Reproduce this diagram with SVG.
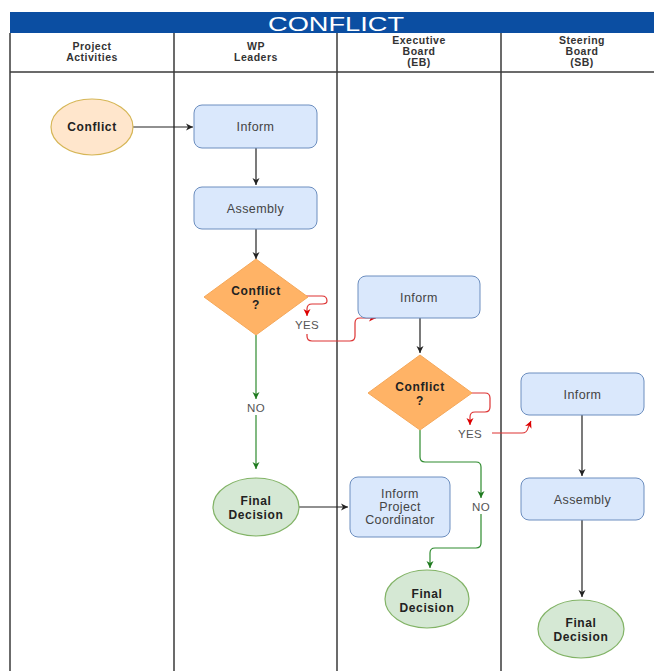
<svg xmlns="http://www.w3.org/2000/svg" width="654" height="671" viewBox="0 0 654 671">
<defs>
<style>
.lane{stroke:#3a3a3a;stroke-width:1.5;fill:none}
.hdr{font-family:"Liberation Sans",Arial,sans-serif;font-size:10.5px;font-weight:bold;fill:#333;text-anchor:middle;letter-spacing:0.5px}
.box{fill:#dae8fc;stroke:#6c8ebf;stroke-width:1}
.orange{fill:#ffe6cc;stroke:#d6b656;stroke-width:1.2}
.green{fill:#d5e8d4;stroke:#82b366;stroke-width:1.2}
.dia{fill:#ffb366;stroke:#f5a85a;stroke-width:1}
.t{font-family:"Liberation Sans",Arial,sans-serif;font-size:12.5px;fill:#444;text-anchor:middle;letter-spacing:0.4px}
.tb{font-family:"Liberation Sans",Arial,sans-serif;font-size:12px;font-weight:bold;fill:#222;text-anchor:middle;letter-spacing:0.6px}
.lbl{font-family:"Liberation Sans",Arial,sans-serif;font-size:11.5px;fill:#555;text-anchor:middle;letter-spacing:0.4px}
.cb{stroke:#222;stroke-width:1.2;fill:none}
.cr{stroke:#d33;stroke-width:1.2;fill:none}
.cg{stroke:#2e8b2e;stroke-width:1.2;fill:none}
</style>
<marker id="ab" markerWidth="8" markerHeight="8" refX="7" refY="4" orient="auto" markerUnits="userSpaceOnUse"><path d="M0,0.5 L7,4 L0,7.5 L2,4 Z" fill="#222"/></marker>
<marker id="ar" markerWidth="8" markerHeight="8" refX="7" refY="4" orient="auto" markerUnits="userSpaceOnUse"><path d="M0,0.5 L7,4 L0,7.5 L2,4 Z" fill="#d00"/></marker>
<marker id="ag" markerWidth="8" markerHeight="8" refX="7" refY="4" orient="auto" markerUnits="userSpaceOnUse"><path d="M0,0.5 L7,4 L0,7.5 L2,4 Z" fill="#1f7a1f"/></marker>
</defs>
<rect width="654" height="671" fill="#fff"/>
<g id="pool">
<rect x="10" y="12" width="644" height="21" fill="#0b4ea2"/>
<text x="336" y="30.5" font-family="'Liberation Sans',Arial,sans-serif" font-size="21" fill="#fff" text-anchor="middle" textLength="136" lengthAdjust="spacingAndGlyphs">CONFLICT</text>
<line class="lane" x1="10" y1="72" x2="654" y2="72"/>
<line class="lane" x1="10" y1="33" x2="10" y2="671"/>
<line class="lane" x1="174" y1="33" x2="174" y2="671"/>
<line class="lane" x1="337" y1="33" x2="337" y2="671"/>
<line class="lane" x1="501" y1="33" x2="501" y2="671"/>
<text class="hdr" x="92" y="50">Project</text>
<text class="hdr" x="92" y="61">Activities</text>
<text class="hdr" x="256" y="50">WP</text>
<text class="hdr" x="256" y="61">Leaders</text>
<text class="hdr" x="419" y="44">Executive</text>
<text class="hdr" x="419" y="55">Board</text>
<text class="hdr" x="419" y="66">(EB)</text>
<text class="hdr" x="582" y="44">Steering</text>
<text class="hdr" x="582" y="55">Board</text>
<text class="hdr" x="582" y="66">(SB)</text>
</g>
<g id="connectors">
<path class="cb" d="M133,127 H193" marker-end="url(#ab)"/>
<path class="cb" d="M256,148 V185" marker-end="url(#ab)"/>
<path class="cb" d="M256,229 V259" marker-end="url(#ab)"/>
<path class="cr" d="M306,296 H322 Q327,296 327,301 Q327,304 322,304 H312 Q307,304 307,309 V316" marker-end="url(#ar)"/>
<path class="cr" d="M307,334 V336 Q307,341 312,341 H350 Q355,341 355,336 V323 Q355,318 360,318 H376" marker-end="url(#ar)"/>
<path class="cg" d="M256,335 V399" marker-end="url(#ag)"/>
<path class="cg" d="M256,415 V469" marker-end="url(#ag)"/>
<path class="cb" d="M420,318 V353" marker-end="url(#ab)"/>
<path class="cr" d="M470,393 H485 Q490,393 490,398 V407 Q490,412 485,412 H475 Q470,412 470,417 V425" marker-end="url(#ar)"/>
<path class="cr" d="M492,433 H522 Q527,433 528,428 L531,421" marker-end="url(#ar)"/>
<path class="cg" d="M420,430 V457 Q420,462 425,462 H476 Q481,462 481,467 V498" marker-end="url(#ag)"/>
<path class="cg" d="M481,514 V543 Q481,548 476,548 H435 Q430,548 430,553 V568" marker-end="url(#ag)"/>
<path class="cb" d="M299,507 H348" marker-end="url(#ab)"/>
<path class="cb" d="M582,415 V476" marker-end="url(#ab)"/>
<path class="cb" d="M582,520 V597" marker-end="url(#ab)"/>
<text class="lbl" x="307" y="329">YES</text>
<text class="lbl" x="256" y="412">NO</text>
<text class="lbl" x="470" y="438">YES</text>
<text class="lbl" x="481" y="511">NO</text>
</g>
<g id="conflict_start"><ellipse class="orange" cx="92" cy="127" rx="41" ry="28"/><text class="tb" x="92" y="131">Conflict</text></g>
<g id="wp_inform"><rect class="box" x="194" y="105" width="123" height="43" rx="8"/><text class="t" x="255.5" y="131">Inform</text></g>
<g id="wp_assembly"><rect class="box" x="194" y="187" width="123" height="42" rx="8"/><text class="t" x="255.5" y="212.5">Assembly</text></g>
<g id="wp_conflict"><path class="dia" d="M256,259 L308,297 L256,335 L204,297 Z"/><text class="tb" x="256" y="295">Conflict</text><text class="tb" x="256" y="309">?</text></g>
<g id="wp_final"><ellipse class="green" cx="256" cy="507" rx="43" ry="29"/><text class="tb" x="256" y="505">Final</text><text class="tb" x="256" y="519">Decision</text></g>
<g id="eb_inform"><rect class="box" x="358" y="276" width="122" height="42" rx="8"/><text class="t" x="419" y="301.5">Inform</text></g>
<g id="eb_conflict"><path class="dia" d="M420,355 L472,393 L420,430 L368,393 Z"/><text class="tb" x="420" y="391">Conflict</text><text class="tb" x="420" y="405">?</text></g>
<g id="eb_coordinator"><rect class="box" x="350" y="477" width="100" height="60" rx="8"/><text class="t" x="400" y="498">Inform</text><text class="t" x="400" y="511">Project</text><text class="t" x="400" y="524">Coordinator</text></g>
<g id="eb_final"><ellipse class="green" cx="427" cy="599" rx="42" ry="29"/><text class="tb" x="427" y="598">Final</text><text class="tb" x="427" y="612">Decision</text></g>
<g id="sb_inform"><rect class="box" x="521" y="373" width="123" height="42" rx="8"/><text class="t" x="582.5" y="398.5">Inform</text></g>
<g id="sb_assembly"><rect class="box" x="521" y="478" width="123" height="42" rx="8"/><text class="t" x="582.5" y="503.5">Assembly</text></g>
<g id="sb_final"><ellipse class="green" cx="581" cy="629" rx="43" ry="29"/><text class="tb" x="581" y="627">Final</text><text class="tb" x="581" y="641">Decision</text></g>
</svg>
